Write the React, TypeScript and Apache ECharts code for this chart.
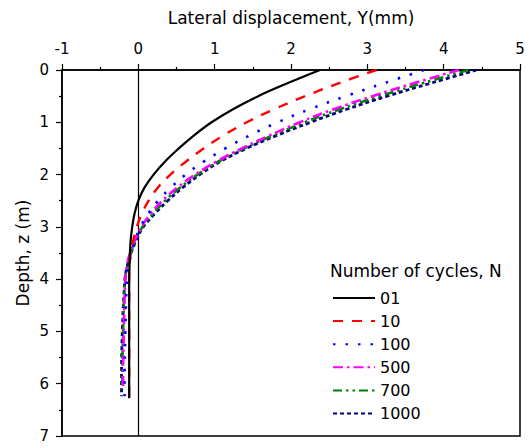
import React, { useEffect, useRef } from "react";
import * as echarts from "echarts";

const depths = [0, 0.25, 0.5, 0.75, 1, 1.25, 1.5, 1.75, 2, 2.25, 2.5, 2.75, 3, 3.25, 3.5, 3.75, 4, 5, 6];
const endDepths = [6.28, 6.28, 6.24, 6.12, 6.12, 6.24];
const seriesNames = ["01", "10", "100", "500", "700", "1000"];

const y01 = [2.38, 1.96, 1.57, 1.24, 0.96, 0.73, 0.53, 0.35, 0.2, 0.08, 0.0, -0.05, -0.08, -0.1, -0.11, -0.115, -0.12, -0.12, -0.12, -0.12];
const y10 = [3.12, 2.63, 2.185, 1.78, 1.42, 1.115, 0.855, 0.625, 0.42, 0.255, 0.135, 0.045, -0.02, -0.065, -0.1, -0.115, -0.12, -0.12, -0.12, -0.12];
const y100 = [3.74, 3.225, 2.72, 2.245, 1.825, 1.46, 1.14, 0.86, 0.62, 0.425, 0.26, 0.13, 0.03, -0.04, -0.09, -0.13, -0.15, -0.17, -0.18, -0.18];
const y500 = [4.2, 3.615, 3.065, 2.56, 2.115, 1.72, 1.355, 1.025, 0.745, 0.51, 0.315, 0.16, 0.04, -0.045, -0.11, -0.15, -0.17, -0.19, -0.2, -0.2];
const y700 = [4.32, 3.73, 3.16, 2.64, 2.18, 1.765, 1.385, 1.05, 0.775, 0.545, 0.35, 0.19, 0.055, -0.035, -0.1, -0.145, -0.175, -0.2, -0.21, -0.21];
const y1000 = [4.43, 3.835, 3.26, 2.73, 2.255, 1.815, 1.415, 1.075, 0.805, 0.58, 0.385, 0.215, 0.065, -0.025, -0.095, -0.145, -0.175, -0.21, -0.22, -0.22];

const allY = [y01, y10, y100, y500, y700, y1000];
const colors = ["#000000", "#ff0000", "#0000ff", "#ff00ff", "#008000", "#000080"];
const dashes: any[] = ["solid", [10, 9], [2.5, 10], [10, 4, 2.5, 4], [9, 4, 2.5, 4, 2.5, 4], [4, 3]];
const widths = [2.2, 2.4, 2.6, 2.6, 2.6, 2.8];

const FONT = "DejaVu Sans";

export default function App() {
  const ref = useRef<HTMLDivElement>(null);
  useEffect(() => {
    if (!ref.current) return;
    const chart = echarts.init(ref.current, undefined, { renderer: "svg" });
    const series: any[] = allY.map((ys, i) => {
      const zs = [...depths, endDepths[i]];
      return {
        name: seriesNames[i],
        type: "line",
        data: ys.map((y, k) => [y, zs[k]]),
        showSymbol: false,
        symbol: "none",
        smooth: 0.4,
        lineStyle: { color: colors[i], width: widths[i], type: dashes[i] },
        itemStyle: { color: colors[i] },
        z: 10 - i,
        markLine:
          i === 0
            ? {
                silent: true,
                symbol: "none",
                label: { show: false },
                lineStyle: { color: "#000", width: 1.2, type: "solid" },
                data: [{ xAxis: 0 }],
              }
            : undefined,
      };
    });
    chart.setOption({
      animation: false,
      grid: {
        left: 62,
        right: 12,
        top: 70,
        bottom: 12,
        show: true,
        borderColor: "#000",
        borderWidth: 1.5,
        backgroundColor: "transparent",
      },
      title: {
        text: "Number of cycles, N",
        left: 330,
        top: 262,
        textStyle: { fontFamily: FONT, fontSize: 17, fontWeight: "normal", color: "#000" },
        padding: 0,
      },
      legend: {
        orient: "vertical",
        left: 332,
        top: 290,
        itemWidth: 42,
        itemHeight: 14,
        itemGap: 7.1,
        padding: 0,
        itemStyle: { opacity: 0 },
        textStyle: { fontFamily: FONT, fontSize: 16, color: "#000" },
        data: seriesNames,
      },
      xAxis: {
        type: "value",
        position: "top",
        min: -1,
        max: 5,
        interval: 1,
        name: "Lateral displacement, Y(mm)",
        nameLocation: "middle",
        nameGap: 44,
        nameTextStyle: { fontFamily: FONT, fontSize: 17, color: "#000" },
        axisLine: { show: true, onZero: false, lineStyle: { color: "#000", width: 1.5 } },
        axisTick: { show: true, length: 6, lineStyle: { color: "#000", width: 1.2 } },
        minorTick: { show: true, splitNumber: 2, length: 3, lineStyle: { color: "#000", width: 1.2 } },
        axisLabel: { fontFamily: FONT, fontSize: 15, color: "#000", margin: 14 },
        splitLine: { show: false },
      },
      yAxis: {
        type: "value",
        inverse: true,
        min: 0,
        max: 7,
        interval: 1,
        name: "Depth, z (m)",
        nameLocation: "middle",
        nameGap: 31,
        nameMoveOverlap: false,
        nameTextStyle: { fontFamily: FONT, fontSize: 17, color: "#000" },
        axisLine: { show: true, onZero: false, lineStyle: { color: "#000", width: 1.5 } },
        axisTick: { show: true, length: 6, lineStyle: { color: "#000", width: 1.2 } },
        minorTick: { show: true, splitNumber: 2, length: 3, lineStyle: { color: "#000", width: 1.2 } },
        axisLabel: { fontFamily: FONT, fontSize: 15, color: "#000", margin: 13 },
        splitLine: { show: false },
      },
      series,
    });
    return () => chart.dispose();
  }, []);
  return <div ref={ref} style={{ width: 532, height: 448, position: "absolute", left: 0, top: 0 }} />;
}
